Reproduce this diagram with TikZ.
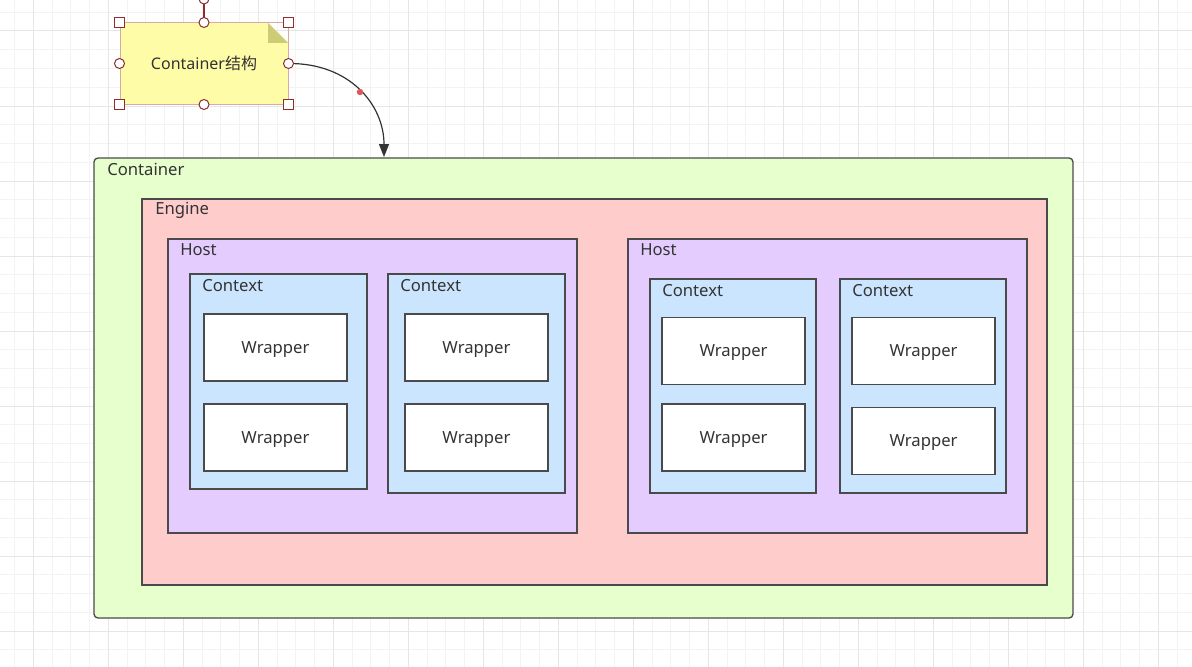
\documentclass[tikz,border=0pt]{standalone}
\usepackage{fontspec}
\setmainfont{Noto Sans}
\newfontfamily\cjk{Noto Sans CJK SC}
\usetikzlibrary{arrows.meta}
\definecolor{gridminor}{HTML}{F3F3F3}
\definecolor{gridmajor}{HTML}{E6E6E6}
\definecolor{boxline}{HTML}{4A4A4A}
\definecolor{txt}{HTML}{333333}
\definecolor{ccont}{HTML}{E6FFCC}
\definecolor{ceng}{HTML}{FFCCCC}
\definecolor{chost}{HTML}{E5CCFF}
\definecolor{cctx}{HTML}{CCE5FF}
\definecolor{cnote}{HTML}{FFFCA8}
\definecolor{cfold}{HTML}{CCCC77}
\definecolor{selpink}{HTML}{D9A8A8}
\definecolor{hdl}{HTML}{8B2E2E}
\definecolor{dotred}{HTML}{E05555}
\begin{document}
\begin{tikzpicture}[x=0.75pt,y=-0.75pt,
  box/.style={draw=boxline,line width=1pt},
  lbl/.style={anchor=west,inner sep=0pt,yshift=-1.2pt,text=txt,font=\fontsize{12.5}{15}\selectfont},
  wrap/.style={box,fill=white,minimum width=107.25pt,minimum height=50.25pt,inner sep=0pt,
    text height=8.7pt,text depth=0pt,text=txt,font=\fontsize{12.5}{15}\selectfont},
  handle/.style={draw=hdl,fill=white,line width=0.75pt},
  conn/.style={draw=txt,line width=0.9pt,-{Triangle[length=9.75pt,width=7.5pt]}}]
\useasboundingbox (0,0) rectangle (1192,667);
\clip (0,0) rectangle (1192,667);
\fill[white] (0,0) rectangle (1192,667);
%background grid
\foreach \i in {0,...,63} \draw[gridminor,line width=0.75pt] ({-4.2+18.75*\i},0) -- ({-4.2+18.75*\i},667);
\foreach \i in {0,...,35} \draw[gridminor,line width=0.75pt] (0,{-6.5+18.75*\i}) -- (1192,{-6.5+18.75*\i});
\foreach \i in {0,...,15} \draw[gridmajor,line width=0.75pt] ({33.3+75*\i},0) -- ({33.3+75*\i},667);
\foreach \i in {0,...,8} \draw[gridmajor,line width=0.75pt] (0,{31+75*\i}) -- (1192,{31+75*\i});
% nested boxes
\draw[box,fill=ccont,rounded corners=3pt] (94,158) rectangle (1073,618);
\draw[box,fill=ceng] (142,199) rectangle (1047,585);
\draw[box,fill=chost] (168,239) rectangle (577,533);
\draw[box,fill=chost] (628,239) rectangle (1027,533);
\draw[box,fill=cctx] (190,274) rectangle (367,489);
\draw[box,fill=cctx] (388,274) rectangle (565,493);
\draw[box,fill=cctx] (650,279) rectangle (816,493);
\draw[box,fill=cctx] (840,279) rectangle (1006,493);
\node[lbl] (lcont) at (107,168) {Container};
\node[lbl] (leng) at (155,209) {Engine};
\node[lbl] (lhost1) at (180,248) {Host};
\node[lbl] (lhost2) at (640,248) {Host};
\node[lbl] (lctx1) at (202,284) {Context};
\node[lbl] (lctx2) at (400,284) {Context};
\node[lbl] (lctx3) at (662,289) {Context};
\node[lbl] (lctx4) at (852,289) {Context};
\foreach \n/\x/\y in {w1/275.5/347.5, w2/275.5/437.5, w3/476.5/347.5, w4/476.5/437.5,
  w5/733.5/351, w6/733.5/437.5, w7/923.5/351, w8/923.5/441}
  \node[wrap] (\n) at (\x,\y) {Wrapper};
% note (selected)
\fill[cnote] (120,23) -- (268,23) -- (288,43) -- (288,104) -- (120,104) -- cycle;
\fill[cfold] (268,23) -- (268,43) -- (288,43) -- cycle;
\node[draw=selpink,line width=0.75pt,minimum width=126pt,minimum height=60.75pt,inner sep=0pt,
  text height=8.4pt,text depth=0pt,text=txt,font=\fontsize{12}{14}\selectfont] (note) at (204,63.5) {Container{\cjk 结构}};
\coordinate (ctop) at (384,157);
\draw[conn] (note.east) .. controls (350,63) and (384,105) .. (ctop);
\fill[dotred] (360,92) circle (2.4pt);
\draw[hdl,line width=0.9pt] (204,4) -- (note.north);
\draw[handle] (204,-1) circle (3.75pt);
\foreach \a in {north west,north east,south west,south east}
  \draw[handle] ([shift={(-3.75pt,-3.75pt)}]note.\a) rectangle ++(7.5pt,7.5pt);
\foreach \a in {north,south,east,west}
  \draw[handle] (note.\a) circle (3.75pt);
\end{tikzpicture}
\end{document}
